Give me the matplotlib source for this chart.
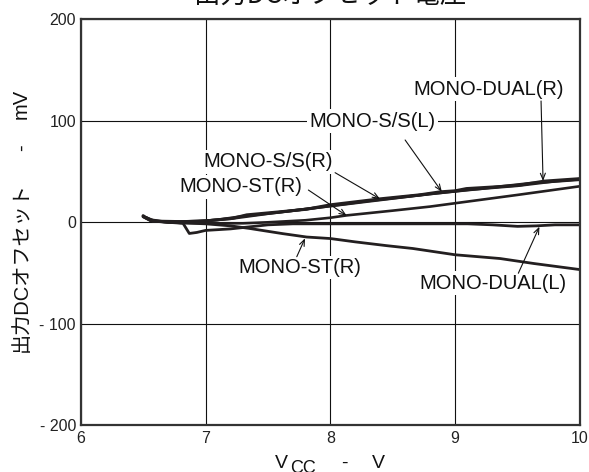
import matplotlib
matplotlib.use("Agg")
import matplotlib.pyplot as plt

# ---- data ----
title_text = "出力DCオフセット電圧"
x_ticks = [6, 7, 8, 9, 10]
y_ticks = [-200, -100, 0, 100, 200]
y_tick_labels = ["- 200", "- 100", "0", "100", "200"]

dual_r_v = [6.50, 6.53, 6.56, 6.65, 6.82, 7.00, 7.22, 7.33, 7.62, 7.81, 8.00, 8.40, 8.72, 8.88, 9.00, 9.09, 9.36, 9.52, 9.71, 10.0]
dual_r_mv = [6.5, 4.0, 2.3, 1.0, 0.6, 1.3, 4.0, 7.3, 10.6, 12.9, 17.2, 23.1, 27.1, 30.0, 31.0, 33.2, 35.2, 36.7, 40.5, 43.0]

ss_r_v = [6.50, 6.56, 6.70, 6.90, 7.10, 7.30, 7.60, 8.00, 8.40, 8.80, 9.20, 9.60, 10.0]
ss_r_mv = [5.5, 1.5, 0.0, 0.5, 2.5, 6.0, 10.0, 16.0, 22.0, 28.0, 33.0, 38.5, 42.0]

ss_l_v = [6.52, 6.58, 6.75, 7.00, 7.20, 7.50, 7.90, 8.30, 8.70, 9.10, 9.50, 9.80, 10.0]
ss_l_mv = [5.0, 1.0, 0.5, 1.5, 3.5, 8.5, 14.5, 21.0, 26.5, 32.0, 36.0, 40.5, 42.5]

st_r_up_v = [6.52, 6.60, 6.80, 7.00, 7.30, 7.50, 7.80, 8.00, 8.13, 8.50, 8.80, 9.00, 9.50, 10.0]
st_r_up_mv = [5.0, 1.0, -0.5, -1.0, -1.0, 0.0, 2.0, 4.5, 6.8, 11.5, 15.5, 18.8, 27.0, 35.5]

dual_l_v = [6.50, 6.56, 6.70, 6.82, 6.87, 6.93, 7.00, 7.20, 7.35, 7.50, 7.70, 8.00, 8.40, 8.80, 9.10, 9.30, 9.50, 9.65, 9.80, 10.0]
dual_l_mv = [6.0, 2.0, 0.0, -1.0, -11.0, -10.0, -8.0, -6.5, -4.5, -2.5, -1.5, -1.5, -1.5, -1.5, -1.5, -2.5, -4.0, -3.5, -2.5, -2.5]

st_r_dn_v = [6.50, 6.58, 6.80, 7.00, 7.20, 7.35, 7.62, 7.81, 8.00, 8.20, 8.45, 8.66, 9.00, 9.36, 9.63, 10.0]
st_r_dn_mv = [5.5, 1.0, -0.5, -1.5, -3.5, -6.0, -11.2, -14.5, -16.0, -19.3, -23.0, -25.8, -32.0, -35.7, -40.6, -46.6]

# label text, text centre (V, mV), arrow tail (V, mV), arrow tip (V, mV)
labels = ["MONO-DUAL(R)", "MONO-S/S(L)", "MONO-S/S(R)", "MONO-ST(R)", "MONO-ST(R)", "MONO-DUAL(L)"]
label_pos = [(9.264, 131.3), (8.334, 99.8), (7.503, 59.7), (7.283, 35.1), (7.757, -44.5), (9.306, -60.1)]
arrow_tail = [(9.688, 119.5), (8.599, 81.1), (8.038, 48.9), (7.824, 31.8), (7.731, -33.9), (9.506, -50.2)]
arrow_tip = [(9.704, 40.7), (8.893, 30.1), (8.398, 23.0), (8.131, 6.5), (7.797, -15.8), (9.675, -4.3)]

# ---- figure ----
W, H = 589, 472
fig = plt.figure(figsize=(W / 100, H / 100), dpi=100)
ax = fig.add_axes([80.7 / W, (H - 425.3) / H, (580 - 80.7) / W, (425.3 - 19.3) / H])

line_col = "#231f20"
fam = ["Liberation Sans", "Noto Sans CJK JP"]

for vv, mm, lw in [(dual_l_v, dual_l_mv, 2.0), (st_r_dn_v, st_r_dn_mv, 2.0),
                   (st_r_up_v, st_r_up_mv, 1.9),
                   (ss_r_v, ss_r_mv, 2.0), (ss_l_v, ss_l_mv, 2.0), (dual_r_v, dual_r_mv, 2.2)]:
    ax.plot(vv, mm, color=line_col, lw=lw, zorder=4, solid_capstyle="round", solid_joinstyle="round")

ax.set_xlim(6, 10)
ax.set_ylim(-200, 200)
ax.set_xticks(x_ticks)
ax.set_xticklabels([str(t) for t in x_ticks])
ax.set_yticks(y_ticks)
ax.set_yticklabels(y_tick_labels)
ax.tick_params(length=0, labelsize=11.5, colors="#222222")
ax.tick_params(axis="x", pad=4.2)
ax.tick_params(axis="y", pad=3.4)
for lab in ax.get_xticklabels() + ax.get_yticklabels():
    lab.set_family(fam)
ax.grid(True, color="#111111", lw=0.8, zorder=1)
ax.set_axisbelow(True)
for s in ax.spines.values():
    s.set_linewidth(1.6)
    s.set_color("#333333")
    s.set_zorder(6)

for txt, pos in zip(labels, label_pos):
    ax.text(pos[0], pos[1], txt, ha="center", va="center", fontsize=14.5, family=fam,
            color="#111111", zorder=3,
            bbox=dict(boxstyle="square,pad=0.12", fc="white", ec="none"))

for tail, tip in zip(arrow_tail, arrow_tip):
    ax.annotate("", xy=tip, xytext=tail,
                arrowprops=dict(arrowstyle="->,head_length=0.45,head_width=0.18",
                                color="#111111", lw=0.8, shrinkA=0, shrinkB=0),
                zorder=5)

# title (partly cut off at the top, as in the reference)
fig.text(330.5 / W, 1 - 3 / H, title_text, ha="center", va="baseline", fontsize=19,
         family=["Noto Sans CJK JP", "Liberation Sans"], color="#111111")

# y label pieces (rotated)
fig.text(21.5 / W, 1 - 267.5 / H, "出力DCオフセット", rotation=90, ha="center", va="center",
         fontsize=14.5, family=fam, color="#111111")
fig.text(21.5 / W, 1 - 148 / H, "-", rotation=90, ha="center", va="center",
         fontsize=14.5, family=fam, color="#111111")
fig.text(21.5 / W, 1 - 103.5 / H, "mV", rotation=90, ha="center", va="center",
         fontsize=14.5, family=fam, color="#111111")

# x label pieces
fig.text(275 / W, 1 - 468 / H, "V", ha="left", va="baseline", fontsize=14, family=fam, color="#111111")
fig.text(290 / W, 1 - 473.5 / H, "CC", ha="left", va="baseline", fontsize=13, family=fam, color="#111111")
fig.text(344.5 / W, 1 - 468 / H, "-", ha="center", va="baseline", fontsize=14, family=fam, color="#111111")
fig.text(372 / W, 1 - 468 / H, "V", ha="left", va="baseline", fontsize=14, family=fam, color="#111111")

fig.savefig("out.png", dpi=100)
